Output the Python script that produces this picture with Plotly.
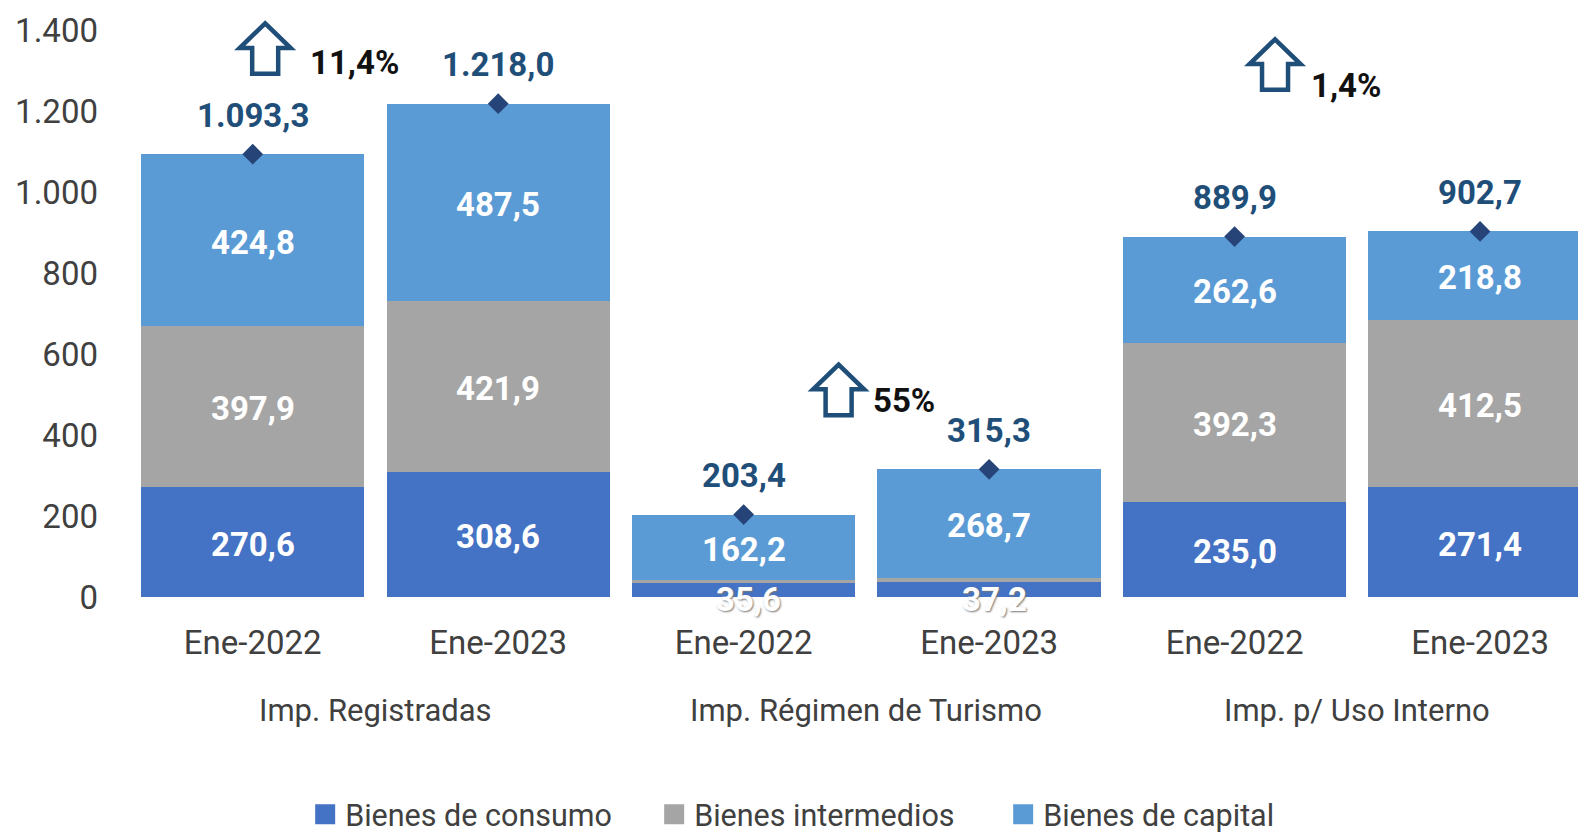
import plotly.graph_objects as go

x_pos = [0, 1, 2, 3, 4, 5]
periods = ["Ene-2022", "Ene-2023", "Ene-2022", "Ene-2023", "Ene-2022", "Ene-2023"]
groups = ["Imp. Registradas", "Imp. Régimen de Turismo", "Imp. p/ Uso Interno"]
group_centers = [0.5, 2.5, 4.5]
consumo = [270.6, 308.6, 35.6, 37.2, 235.0, 271.4]
intermedios = [397.9, 421.9, 5.6, 9.4, 392.3, 412.5]
capital = [424.8, 487.5, 162.2, 268.7, 262.6, 218.8]
totals = [1093.3, 1218.0, 203.4, 315.3, 889.9, 902.7]
y_ticks = [0, 200, 400, 600, 800, 1000, 1200, 1400]
y_labels = ["0", "200", "400", "600", "800", "1.000", "1.200", "1.400"]
changes = ["11,4%", "55%", "1,4%"]

W, H = 1578, 832
L, R, T, B = 129.8, 1578, 30.2, 596.7
FONT = "Roboto"
C_CONS, C_INT, C_CAP = "#4472C4", "#A5A5A5", "#5B9BD5"
NAVY = "#1F4E79"
TXT = "#404040"
FS = 33
FS_GROUP = 31
FS_LEGEND = 30.5


def fmt(v):
    s = f"{v:,.1f}"
    return s.replace(",", "X").replace(".", ",").replace("X", ".")


def arrow_path(x0, y0, w, h):
    xp = lambda v: (x0 + v * w - L) / (R - L)
    yp = lambda v: 1 - (y0 + v * h - T) / (B - T)
    pts = [(0.5, 0), (1, 0.49), (0.755, 0.49), (0.755, 1), (0.245, 1), (0.245, 0.49), (0, 0.49)]
    return "M" + "L".join(f"{xp(a):.5f},{yp(b):.5f}" for a, b in pts) + "Z"


fig = go.Figure()
for name, vals, col in [("Bienes de consumo", consumo, C_CONS),
                        ("Bienes intermedios", intermedios, C_INT),
                        ("Bienes de capital", capital, C_CAP)]:
    fig.add_bar(x=x_pos, y=vals, name=name, marker=dict(color=col, line=dict(width=0)), showlegend=False)
    fig.add_scatter(x=[None], y=[None], mode="markers", name=name,
                    marker=dict(symbol="square", color=col, size=16, line=dict(color=col, width=4)))

fig.add_scatter(x=x_pos, y=totals, mode="markers", showlegend=False,
                marker=dict(symbol="diamond", color="#264478", size=16), cliponaxis=False)

ann = []
for i, x in enumerate(x_pos):
    base = 0
    for vals, label_it in [(consumo, True), (intermedios, intermedios[i] > 50), (capital, True)]:
        v = vals[i]
        if label_it:
            small = v < 50
            font = dict(family=FONT, size=FS, color="white", weight="bold")
            if small:
                font["shadow"] = "1px 1px 2px #777777"
            ann.append(dict(x=x, y=base + v / 2, text=fmt(v), showarrow=False, font=font,
                            xanchor="center", yanchor="middle",
                            xshift=5 if small else 0, yshift=-10 if small else -2))
        base += v
    ann.append(dict(x=x, y=totals[i], text=fmt(totals[i]), showarrow=False, yshift=39,
                    xanchor="center", yanchor="middle",
                    font=dict(family=FONT, size=FS, color=NAVY, weight="bold")))

for g, c in zip(groups, group_centers):
    ann.append(dict(x=c, xref="x", y=(B - 710) / (B - T), yref="paper", text=g, showarrow=False,
                    xanchor="center", yanchor="middle", font=dict(family=FONT, size=FS_GROUP, color=TXT)))

arrows = [(239.5, 23.5, 51, 50.5), (813, 364.5, 51, 50.5), (1249.5, 39.5, 51, 50.5)]
change_xy = [(354, 62.5), (903.7, 400.5), (1345.5, 85.5)]
shapes = []
for (ax, ay, aw, ah), (tx, ty), t in zip(arrows, change_xy, changes):
    shapes.append(dict(type="path", xref="paper", yref="paper", path=arrow_path(ax, ay, aw, ah),
                       line=dict(color=NAVY, width=4.5), fillcolor="white"))
    ann.append(dict(xref="paper", yref="paper", x=(tx - L) / (R - L), y=(B - ty) / (B - T), text=t,
                    xanchor="center", yanchor="middle", showarrow=False,
                    font=dict(family=FONT, size=FS, color="#111111", weight="bold")))

fig.update_layout(
    width=W, height=H, barmode="stack", bargap=0.09,
    margin=dict(l=L, r=W - R, t=T, b=H - B, autoexpand=False),
    paper_bgcolor="white", plot_bgcolor="white",
    font=dict(family=FONT, size=FS, color=TXT),
    annotations=ann, shapes=shapes,
    legend=dict(orientation="h", x=(305 - L) / (R - L), xanchor="left", y=(B - 814) / (B - T), yanchor="middle",
                entrywidth=304, entrywidthmode="pixels", traceorder="normal", itemsizing="trace",
                font=dict(family=FONT, size=FS_LEGEND, color=TXT), bgcolor="rgba(0,0,0,0)"),
    xaxis=dict(range=[-0.5, 5.399], tickvals=x_pos, ticktext=periods, showgrid=False, zeroline=False,
               showline=False, ticks="", ticklabelstandoff=23, tickfont=dict(family=FONT, size=FS, color=TXT)),
    yaxis=dict(range=[0, 1400], tickvals=y_ticks, ticktext=y_labels, showgrid=False, zeroline=False,
               showline=False, ticks="", ticklabelstandoff=31, tickfont=dict(family=FONT, size=FS, color=TXT)),
)

fig.write_html("out.html", config=dict(displayModeBar=False),
               post_script="document.body.style.margin='0';document.body.style.overflow='hidden';")
